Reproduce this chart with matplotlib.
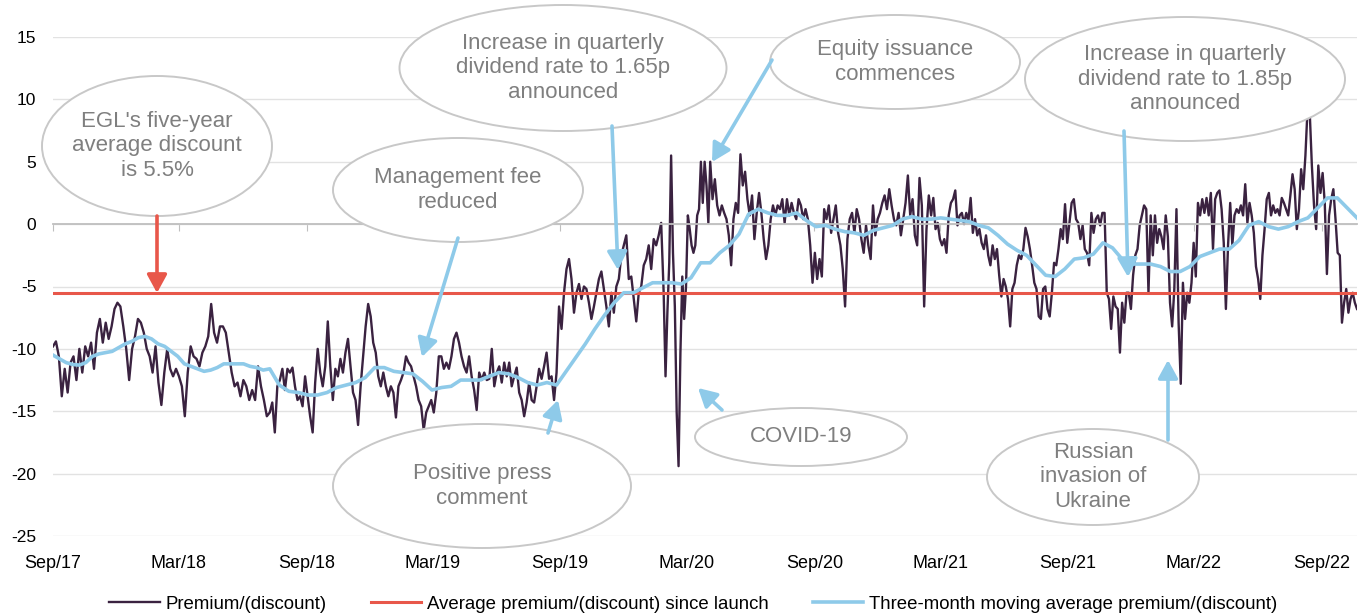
import matplotlib.pyplot as plt
import matplotlib.dates as mdates
import numpy as np
import pandas as pd
from matplotlib.patches import Ellipse, FancyArrowPatch
from matplotlib.ticker import FuncFormatter

plt.rcParams['font.family'] = ['Liberation Sans', 'DejaVu Sans']
plt.rcParams['axes.unicode_minus'] = False

# premium/(discount) readings, spread evenly between the edge dates
prem_edges = ['2017-09-01', '2018-07-10', '2019-05-22', '2020-01-28',
              '2020-04-04', '2021-02-16', '2021-12-29', '2022-10-22']
prem_seg1 = [-9.8, -9.4, -10.6, -13.8, -11.6, -13.5, -11.1, -10.6, -12.5, -10.0,
             -11.9, -9.8, -10.6, -9.5, -11.6, -8.7, -7.6, -9.5, -7.9, -9.2,
             -8.2, -6.8, -6.3, -6.6, -8.2, -10.0, -12.5, -10.0, -9.0, -7.6,
             -7.9, -8.7, -10.0, -10.6, -11.9, -9.8, -12.7, -14.5, -11.9, -10.0,
             -11.6, -12.2, -11.6, -12.2, -13.0, -15.4, -11.9, -9.8, -10.6, -10.8,
             -11.4, -10.3, -9.8, -9.0, -6.4, -8.7, -9.5, -8.2, -8.2, -8.7,
             -10.3, -11.9, -13.0, -12.7, -13.8, -12.5, -13.0, -14.1, -13.3, -14.1,
             -11.4, -13.0, -14.1, -15.4]
prem_seg2 = [-15.1, -14.3, -16.7, -13.0, -12.5, -11.6, -13.3, -11.6, -11.9, -11.5,
             -13.0, -14.1, -13.8, -14.6, -12.2, -13.8, -15.4, -16.7, -12.7, -10.0,
             -11.9, -13.0, -11.4, -7.8, -11.4, -14.1, -11.6, -12.2, -10.8, -11.9,
             -10.3, -9.2, -11.4, -13.5, -14.1, -16.1, -13.0, -10.6, -8.2, -6.4,
             -7.4, -9.5, -10.3, -12.2, -13.0, -11.9, -13.0, -13.8, -13.0, -13.5,
             -15.5, -13.0, -12.5, -11.9, -10.6, -11.1, -11.4, -12.2, -13.0, -14.1,
             -14.6, -16.5, -15.1, -14.6, -14.1, -15.1, -13.5, -10.6, -10.6, -11.6,
             -11.1, -11.6, -10.6, -9.2, -8.7, -9.5, -10.6, -11.4, -11.9, -10.6,
             -12.2, -13.3, -14.9, -11.9, -12.5, -11.9, -12.5]
prem_seg3 = [-12.4, -10.0, -13.0, -11.9, -11.4, -12.7, -11.1, -12.2, -11.1, -13.0,
             -12.2, -11.5, -13.5, -14.1, -15.4, -14.3, -12.7, -14.1, -14.3, -13.0,
             -11.6, -12.4, -11.4, -10.3, -12.4, -12.2, -14.1, -11.9, -6.6, -8.4,
             -5.5, -3.6, -2.8, -4.4, -7.1, -5.5, -4.8, -6.0, -5.0, -5.2,
             -6.3, -7.6, -6.6, -5.5, -4.4, -3.8, -5.2, -6.6, -8.2, -5.5,
             -7.1, -5.0, -4.4, -2.5, -1.7, -0.9, -4.4, -4.2, -6.0, -7.8,
             -5.5, -5.0, -3.3, -2.8, -1.7, -3.6, -1.2, -1.7, -0.9, 0.1]
prem_seg4 = [-5.5, -12.2, -7.1, -3.1, 5.5, -2.3, -6.6, -15.1, -19.4, -10.3,
             -4.2, -7.6, -5.0, 0.7, -0.4, -1.7, -2.3, -1.7, 0.7, 1.2,
             5.0, 1.7, 5.0, 3.1, 0.1]
prem_seg5 = [5.0, 2.0, 3.6, 1.5, 0.7, 1.5, 0.9, 0.4, -0.9, -3.3,
             0.4, 1.7, 0.9, 5.6, 3.1, 4.2, 2.0, 0.7, 2.3, -1.2,
             0.9, 2.5, 0.9, -1.2, -2.8, -1.7, 0.4, 1.5, 0.7, 1.5,
             1.2, 2.0, 0.1, 2.0, 0.7, 1.7, 0.9, 0.4, 2.0, 1.5,
             0.4, 1.2, 0.4, -1.7, -4.7, -2.3, -4.4, -2.8, -4.2, 1.2,
             0.4, 1.5, -0.7, 0.4, 1.5, -0.7, -1.7, -3.6, -6.6, -1.2,
             0.4, 0.9, -0.7, 1.2, 0.4, -1.2, -2.3, -0.1, -1.7, -2.8,
             1.5, -0.9, 0.4, 0.9, 1.7, 2.3, 1.2, 2.8, 1.5, 0.4,
             -0.1, 0.9, -0.9, 0.4, 1.7, 3.9, 0.7, 2.0, -0.9, -1.7,
             3.7, 1.5, -6.6, -0.4, 2.3]
prem_seg6 = [0.7, 2.1, -0.4, 0.1, -1.2, -1.7, -1.2, -2.3, 0.7, 1.7,
             2.0, 2.7, -0.1, 0.7, 0.9, 0.0, 0.9, 0.3, 2.1, -0.7,
             0.4, -0.9, -0.4, -1.5, -2.0, -0.9, -2.5, -3.3, -1.7, -2.8,
             -2.0, -4.1, -5.8, -4.4, -5.0, -6.0, -8.2, -5.2, -4.7, -3.3,
             -2.5, -2.8, -2.0, -0.3, -1.0, -2.0, -3.3, -4.7, -5.2, -7.4,
             -7.6, -5.2, -5.0, -6.8, -7.4, -5.5, -3.1, -3.3, -2.0, -0.4,
             -1.2, 1.6, -1.5, 0.1, 1.7, 2.0, 0.4, 0.1, -1.2, -0.1,
             -2.0, -2.3, -3.3, 0.9, -0.7, 0.4, 0.7, -0.1, 0.9, 0.9,
             -5.5, -6.0, -8.4, -5.8, -6.6, -6.8, -10.3, -6.3, -7.9, -5.5,
             -5.5, -6.8, -4.1, -2.5, -2.0, -0.1, 0.7, 1.5, 1.2, -5.5]
prem_seg7 = [0.7, -2.5, 0.7, -1.5, -0.4, -1.0, -2.0, 0.7, -1.0, -6.3,
             -8.2, -5.2, 1.2, -7.9, -12.8, -4.7, -7.6, -5.5, -6.3, -4.7,
             -1.5, -4.2, 1.7, 0.7, 2.0, 0.9, 2.1, 0.7, 2.5, -2.0,
             2.0, 2.5, 2.7, 1.2, -1.5, -6.8, -1.7, 1.7, -1.7, 0.7,
             1.2, 0.9, 1.5, 0.7, 3.2, 0.1, 1.7, 0.7, -0.7, -3.4,
             -4.4, -6.0, -2.5, -0.4, 2.0, 2.5, 0.7, 1.5, 0.9, 1.2,
             0.7, 2.1, 1.7, 1.2, 0.7, 2.3, 4.0, 2.8, -0.4, 1.2,
             4.4, 2.8, 5.5, 9.3, 9.0, 4.7, 1.5, -0.4, 4.7, 2.5,
             4.1, 1.7, -4.0, 0.7, 2.0, 2.8, 0.4, -2.3, -2.5, -7.9,
             -6.3, -5.2, -7.1, -6.0, -5.5, -6.3, -6.8]

# three-month moving average readings
ma_edges = ['2017-09-01', '2018-07-10', '2019-05-22', '2020-04-04',
            '2021-02-16', '2021-12-29', '2022-10-22']
ma_seg1 = [-10.5, -10.8, -11.1, -11.25, -11.3, -11.1, -10.6, -10.4, -10.3, -10.2,
           -9.9, -9.6, -9.4, -9.1, -9.0, -9.2, -9.6, -9.8, -10.2, -10.6,
           -11.2, -11.4, -11.6, -11.8, -11.7, -11.5, -11.2, -11.2, -11.2, -11.2,
           -11.4, -11.5, -11.7]
ma_seg2 = [-11.6, -12.9, -13.4, -13.5, -13.7, -13.7, -13.5, -13.1, -12.9, -12.7,
           -12.3, -11.5, -11.5, -11.8, -11.9, -12.0, -12.6, -13.3, -13.1, -13.0,
           -12.5, -12.5, -12.5]
ma_seg3 = [-12.2, -11.9, -12.0, -12.3, -12.7, -12.9, -12.7, -12.9, -11.8, -10.7,
           -9.6, -8.4, -7.3, -6.3, -5.5, -5.5, -5.1, -4.7, -4.7, -4.7,
           -4.8, -4.3, -3.1]
ma_seg4 = [-3.1, -2.3, -1.7, -0.8, 0.8, 1.2, 0.9, 0.7, 0.7, 0.9,
           0.3, -0.2, -0.1, -0.4, -0.6, -0.7, -0.9, -0.5, -0.3, -0.1,
           0.4, 0.6, 0.4]
ma_seg5 = [0.4, 0.5, 0.4, 0.3, 0.2, -0.1, -0.3, -0.9, -1.6, -2.1,
           -2.5, -3.3, -4.1, -4.2, -3.6, -2.8, -2.7, -2.4, -1.5, -1.9,
           -2.8, -3.2, -3.2]
ma_seg6 = [-3.2, -3.4, -3.8, -3.8, -3.4, -2.6, -2.3, -2.0, -2.0, -1.3,
           -0.1, 0.2, -0.2, -0.4, -0.2, 0.2, 0.5, 1.3, 2.1, 2.1,
           1.3, 0.5]

avg_premium = -5.5

y_ticks = [-25, -20, -15, -10, -5, 0, 5, 10, 15]

# callouts: text, centre (px), size (px), arrow start (px), arrow tip (px), colour
callouts = [
    ("EGL's five-year\naverage discount\nis 5.5%", (157, 146), (230, 140), (157, 216), (157, 293), '#e8574a'),
    ("Management fee\nreduced", (458, 190), (250, 104), (458, 238), (422, 357), '#8ecae9'),
    ("Increase in quarterly\ndividend rate to 1.65p\nannounced", (563, 68), (327, 126), (612, 126), (618, 270), '#8ecae9'),
    ("Equity issuance\ncommences", (895, 62), (250, 94), (772, 60), (712, 162), '#8ecae9'),
    ("Increase in quarterly\ndividend rate to 1.85p\nannounced", (1185, 79), (320, 124), (1124, 131), (1128, 277), '#8ecae9'),
    ("Positive press\ncomment", (482, 486), (298, 124), (548, 433), (558, 400), '#8ecae9'),
    ("COVID-19", (801, 437), (212, 58), (722, 410), (698, 388), '#8ecae9'),
    ("Russian\ninvasion of\nUkraine", (1093, 477), (212, 96), (1168, 440), (1168, 360), '#8ecae9'),
]


def spread(edges, segments):
    edges = pd.to_datetime(edges)
    dates, vals = [], []
    last = len(segments) - 1
    for i, seg in enumerate(segments):
        n = len(seg) if i == last else len(seg) + 1
        d = pd.date_range(edges[i], edges[i + 1], periods=n)
        if i != last:
            d = d[:-1]
        dates.extend(d)
        vals.extend(seg)
    return pd.DatetimeIndex(dates), np.array(vals)


prem_dates, prem_vals = spread(prem_edges, [prem_seg1, prem_seg2, prem_seg3, prem_seg4,
                                            prem_seg5, prem_seg6, prem_seg7])
ma_dates, ma_vals = spread(ma_edges, [ma_seg1, ma_seg2, ma_seg3, ma_seg4, ma_seg5, ma_seg6])

W, H = 1362, 614
L, R, T, B = 53, 1357, 37, 536
fig = plt.figure(figsize=(W / 100, H / 100), dpi=100)
ax = fig.add_axes([L / W, 1 - B / H, (R - L) / W, (B - T) / H])

l1, = ax.plot(prem_dates, prem_vals, color='#3a2240', lw=1.7, zorder=2,
              label='Premium/(discount)')
l2 = ax.axhline(avg_premium, color='#e8574a', lw=2.2, zorder=3,
                label='Average premium/(discount) since launch')
l3, = ax.plot(ma_dates, ma_vals, color='#8ecae9', lw=2.6, zorder=4,
              label='Three-month moving average premium/(discount)')

ax.set_xlim(pd.Timestamp(prem_edges[0]), pd.Timestamp(prem_edges[-1]))
ax.set_ylim(-25, 15)
ax.set_yticks(y_ticks)
ax.yaxis.set_major_formatter(FuncFormatter(lambda v, p: f'{v:.0f}'))
ax.tick_params(axis='y', length=0, pad=12, labelsize=12.5)
ax.grid(True, axis='y', color='#e2e2e2', lw=1)
for s in ['left', 'right', 'top']:
    ax.spines[s].set_visible(False)

# zero line carries the tick marks, labels sit at the bottom
ax.spines['bottom'].set_position(('data', 0))
ax.spines['bottom'].set_color('#bfbfbf')
ax.spines['bottom'].set_linewidth(1.3)
ax.xaxis.set_major_locator(mdates.MonthLocator(bymonth=[3, 9]))
ax.tick_params(axis='x', direction='out', length=5, color='#bfbfbf', labelbottom=False)

sec = ax.secondary_xaxis('bottom')
sec.xaxis.set_major_locator(mdates.MonthLocator(bymonth=[3, 9]))
sec.xaxis.set_major_formatter(mdates.DateFormatter('%b/%y'))
sec.tick_params(length=0, pad=14, labelsize=13)
sec.spines['bottom'].set_visible(False)


def to_axes(px, py):
    return ((px - L) / (R - L), (B - py) / (B - T))


for text, c, size, a0, a1, col in callouts:
    e = Ellipse(to_axes(*c), size[0] / (R - L), size[1] / (B - T), transform=ax.transAxes,
                facecolor='white', edgecolor='#c8c8c8', lw=1.4, zorder=6, clip_on=False)
    ax.add_patch(e)
    ax.text(*to_axes(*c), text, transform=ax.transAxes, ha='center', va='center',
            fontsize=16, color='#7f7f7f', linespacing=1.22, zorder=7)
    arr = FancyArrowPatch(to_axes(*a0), to_axes(*a1), transform=ax.transAxes,
                          arrowstyle='-|>,head_length=0.55,head_width=0.3', mutation_scale=20,
                          color=col, lw=2.6, shrinkA=0, shrinkB=0, zorder=8, clip_on=False)
    ax.add_patch(arr)

fig.legend([l1, l2, l3], [l1.get_label(), l2.get_label(), l3.get_label()],
           loc='center', bbox_to_anchor=(0.509, 10 / H), ncol=3, frameon=False,
           fontsize=13.4, handlelength=2.7, handletextpad=0.3, columnspacing=2.4)

fig.savefig('out.png', dpi=100)
